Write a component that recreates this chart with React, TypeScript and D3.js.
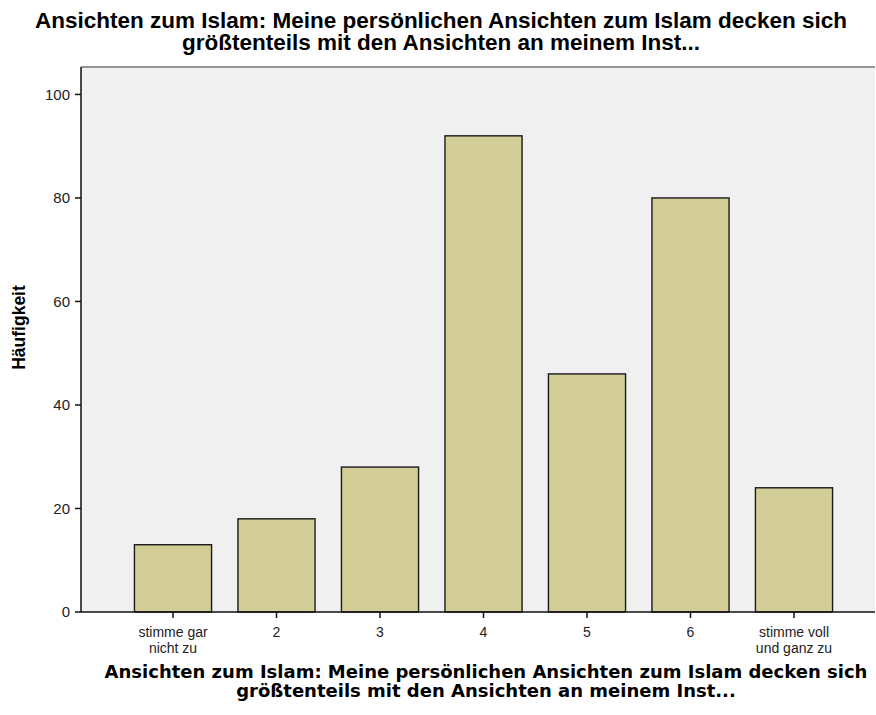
import React from "react";
import * as d3 from "d3";

// chart data
const categories = ["stimme gar\nnicht zu", "2", "3", "4", "5", "6", "stimme voll\nund ganz zu"];
const counts = [13, 18, 28, 92, 46, 80, 24];
const yTicks = [0, 20, 40, 60, 80, 100];

const titleLines = [
  "Ansichten zum Islam: Meine persönlichen Ansichten zum Islam decken sich",
  "größtenteils mit den Ansichten an meinem Inst...",
];
const yLabel = "Häufigkeit";

const width = 876;
const height = 715;
const plot = { left: 81, top: 67, right: 875, bottom: 612 };

const App: React.FC = () => {
  const x = d3
    .scaleBand<string>()
    .domain(categories)
    .range([121, 846])
    .paddingInner(0.255)
    .paddingOuter(0.13);

  const y = d3.scaleLinear().domain([0, 105.3]).range([plot.bottom, plot.top]);

  return (
    <svg
      width={width}
      height={height}
      style={{ position: "absolute", left: 0, top: 0, background: "#fff" }}
      fontFamily="'Liberation Sans', Arial, sans-serif"
    >
      {/* title, one text per line */}
      {titleLines.map((t, i) => (
        <text
          key={i}
          x={441}
          y={28 + i * 22}
          textAnchor="middle"
          fontWeight="bold"
          fontSize={22.5}
          fill="#000"
        >
          {t}
        </text>
      ))}

      {/* plot background */}
      <rect
        x={plot.left}
        y={plot.top}
        width={plot.right - plot.left}
        height={plot.bottom - plot.top}
        fill="#f0f0f0"
      />
      <line x1={plot.left} x2={plot.right} y1={plot.top} y2={plot.top} stroke="#777" strokeWidth={1.5} />

      {/* bars */}
      {categories.map((c, i) => (
        <rect
          key={c}
          x={x(c)}
          y={y(counts[i])}
          width={x.bandwidth()}
          height={y(0) - y(counts[i])}
          fill="#d3ce98"
          stroke="#1a1a1a"
          strokeWidth={1.4}
        />
      ))}

      {/* y axis */}
      <line x1={plot.left} x2={plot.left} y1={plot.top} y2={plot.bottom} stroke="#111" strokeWidth={1.5} />
      {yTicks.map((t) => (
        <g key={t} transform={`translate(0,${y(t)})`}>
          <line x1={plot.left - 6} x2={plot.left} stroke="#111" strokeWidth={1.5} />
          <text x={plot.left - 11} dy="0.35em" textAnchor="end" fontSize={15} fill="#222">
            {t}
          </text>
        </g>
      ))}
      <text
        transform={`translate(25,${(plot.top + plot.bottom) / 2 - 12}) rotate(-90)`}
        textAnchor="middle"
        fontWeight="bold"
        fontSize={17.5}
        fill="#000"
      >
        {yLabel}
      </text>

      {/* x axis */}
      <line x1={plot.left} x2={plot.right} y1={plot.bottom} y2={plot.bottom} stroke="#111" strokeWidth={1.5} />
      {categories.map((c) => {
        const cx = (x(c) ?? 0) + x.bandwidth() / 2;
        return (
          <g key={c} transform={`translate(${cx},${plot.bottom})`}>
            <line y1={0} y2={6} stroke="#111" strokeWidth={1.5} />
            <text textAnchor="middle" fontSize={14} fill="#222">
              {c.split("\n").map((s, i) => (
                <tspan key={i} x={0} y={25 + i * 15.5}>
                  {s}
                </tspan>
              ))}
            </text>
          </g>
        );
      })}

      {/* x axis title */}
      <text
        textAnchor="middle"
        fontWeight="bold"
        fontSize={18}
        fill="#000"
        fontFamily="'DejaVu Sans', Verdana, sans-serif"
      >
        {titleLines.map((t, i) => (
          <tspan key={i} x={486} y={678 + i * 19}>
            {t}
          </tspan>
        ))}
      </text>
    </svg>
  );
};

export default App;
